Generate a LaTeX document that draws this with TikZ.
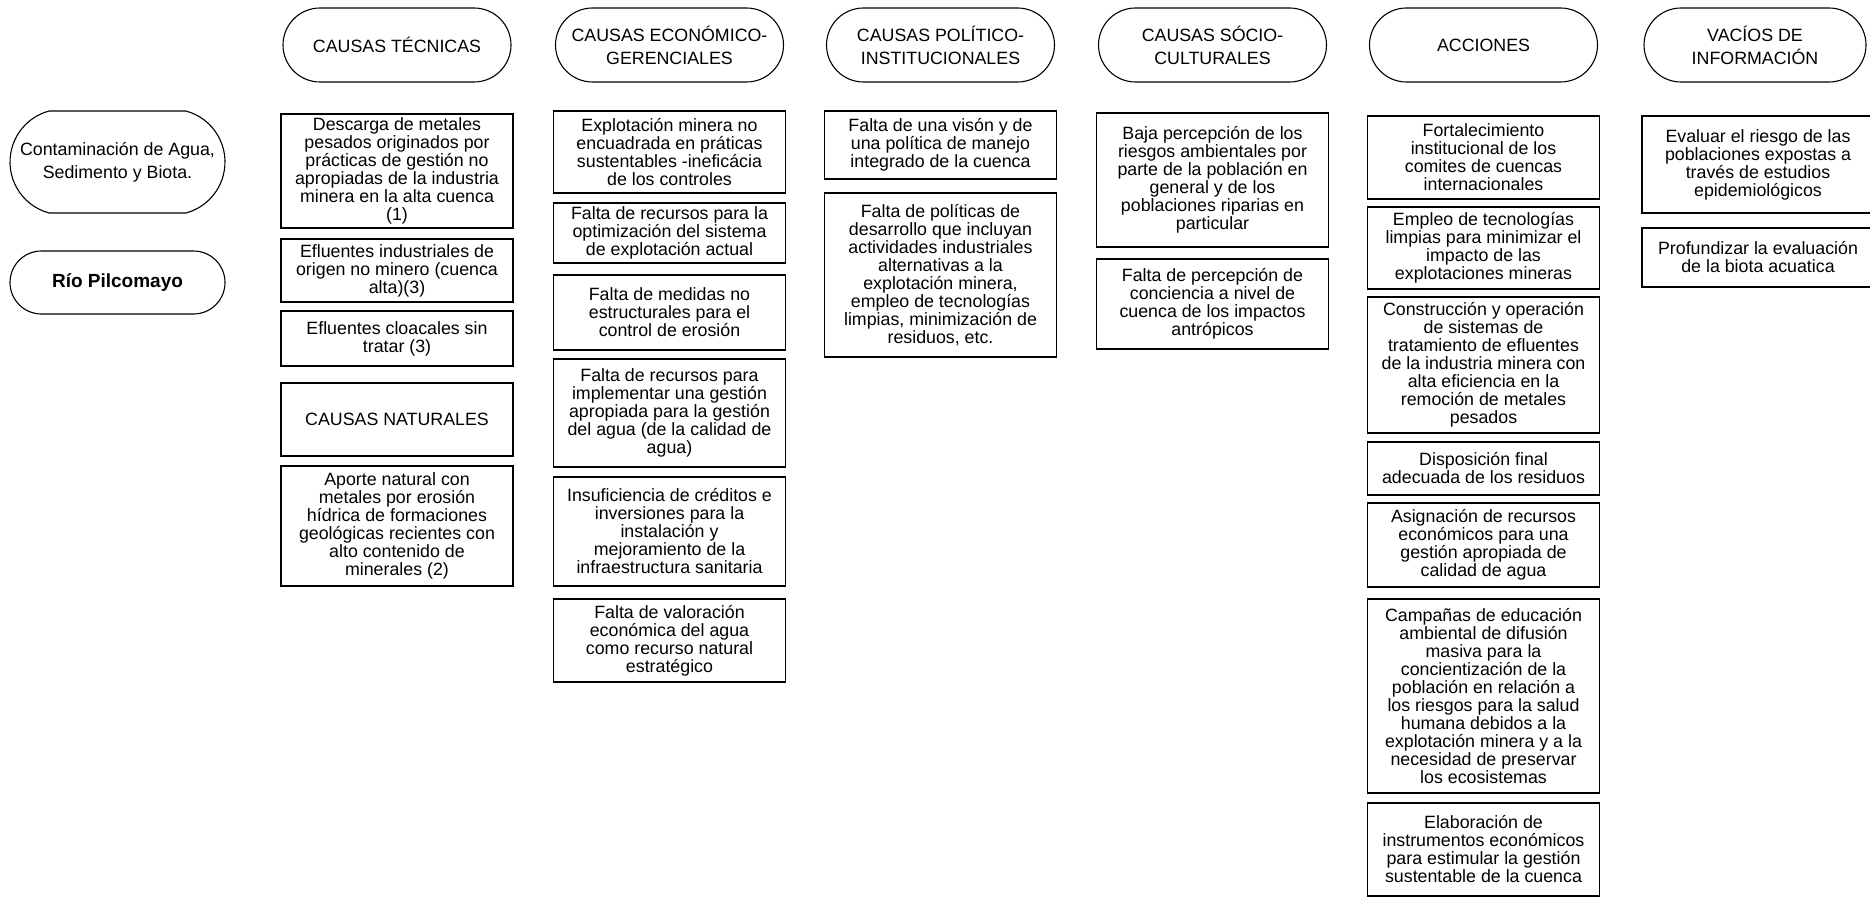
\documentclass[tikz,border=0pt]{standalone}
\usepackage{fontspec}
\setmainfont{Liberation Sans}
\usetikzlibrary{shapes.misc}

\begin{document}
\begin{tikzpicture}[x=1pt,y=-1pt,
  hdr/.style={rounded rectangle,draw,line width=1.1pt,minimum width=232,minimum height=74,inner sep=2pt,align=center,font=\fontsize{17.8}{23}\selectfont},
  box/.style={rectangle,draw,line width=1.1pt,minimum width=232,inner sep=2pt,align=center,font=\fontsize{17.8}{18}\selectfont}]
  \clip(0,0)rectangle(1870,904);
  \fill[white](0,0)rectangle(1870,904);
  % left column
  \node[hdr,rounded rectangle arc length=150,minimum width=219,minimum height=102](cont)at(117.5,162){Contaminación de Agua,\\Sedimento y Biota.};
  \node[hdr,minimum width=219,minimum height=63,font=\fontsize{19}{22}\selectfont\bfseries](rio)at(117.5,282.5){Río Pilcomayo};
  % headers
  \foreach \x/\n/\t in {397/tec/{CAUSAS TÉCNICAS},669.5/eco/{CAUSAS ECONÓMICO-\\GERENCIALES},940.5/pol/{CAUSAS POLÍTICO-\\INSTITUCIONALES},1212.5/soc/{CAUSAS SÓCIO-\\CULTURALES},1483.5/acc/{ACCIONES}}
    \node[hdr](\n)at(\x,45){\t};
  \node[hdr,minimum width=226](vac)at(1755,45){VACÍOS DE\\INFORMACIÓN};
  % causas tecnicas
  \node[box,minimum height=114](tec1)at(397,171){Descarga de metales\\pesados originados por\\prácticas de gestión no\\apropiadas de la industria\\minera en la alta cuenca\\(1)};
  \node[box,minimum height=63](tec2)at(397,270.5){Efluentes industriales de\\origen no minero (cuenca\\alta)(3)};
  \node[box,minimum height=55](tec3)at(397,338.5){Efluentes cloacales sin\\tratar (3)};
  \node[box,minimum height=73](nat)at(397,419.5){CAUSAS NATURALES};
  \node[box,minimum height=120](tec4)at(397,526){Aporte natural con\\metales por erosión\\hídrica de formaciones\\geológicas recientes con\\alto contenido de\\minerales (2)};
  % causas economico-gerenciales
  \node[box,minimum height=82](eco1)at(669.5,152){Explotación minera no\\encuadrada en práticas\\sustentables -ineficácia\\de los controles};
  \node[box,minimum height=60](eco2)at(669.5,233){Falta de recursos para la\\optimización del sistema\\de explotación actual};
  \node[box,minimum height=75](eco3)at(669.5,312.5){Falta de medidas no\\estructurales para el\\control de erosión};
  \node[box,minimum height=108](eco4)at(669.5,413){Falta de recursos para\\implementar una gestión\\apropiada para la gestión\\del agua (de la calidad de\\agua)};
  \node[box,minimum height=109](eco5)at(669.5,531.5){Insuficiencia de créditos e\\inversiones para la\\instalación y\\mejoramiento de la\\infraestructura sanitaria};
  \node[box,minimum height=83](eco6)at(669.5,640.5){Falta de valoración\\económica del agua\\como recurso natural\\estratégico};
  % causas politico-institucionales
  \node[box,minimum height=68](pol1)at(940.5,145){Falta de una visón y de\\una política de manejo\\integrado de la cuenca};
  \node[box,minimum height=164](pol2)at(940.5,275){Falta de políticas de\\desarrollo que incluyan\\actividades industriales\\alternativas a la\\explotación minera,\\empleo de tecnologías\\limpias, minimización de\\residuos, etc.};
  % causas socio-culturales
  \node[box,minimum height=134](soc1)at(1212.5,180){Baja percepción de los\\riesgos ambientales por\\parte de la población en\\general y de los\\poblaciones riparias en\\particular};
  \node[box,minimum height=90](soc2)at(1212.5,304){Falta de percepción de\\conciencia a nivel de\\cuenca de los impactos\\antrópicos};
  % acciones
  \node[box,minimum height=83](acc1)at(1483.5,157.5){Fortalecimiento\\institucional de los\\comites de cuencas\\internacionales};
  \node[box,minimum height=82](acc2)at(1483.5,248){Empleo de tecnologías\\limpias para minimizar el\\impacto de las\\explotaciones mineras};
  \node[box,minimum height=136](acc3)at(1483.5,365){Construcción y operación\\de sistemas de\\tratamiento de efluentes\\de la industria minera con\\alta eficiencia en la\\remoción de metales\\pesados};
  \node[box,minimum height=53](acc4)at(1483.5,468.5){Disposición final\\adecuada de los residuos};
  \node[box,minimum height=84](acc5)at(1483.5,545){Asignación de recursos\\económicos para una\\gestión apropiada de\\calidad de agua};
  \node[box,minimum height=194](acc6)at(1483.5,696){Campañas de educación\\ambiental de difusión\\masiva para la\\concientización de la\\población en relación a\\los riesgos para la salud\\humana debidos a la\\explotación minera y a la\\necesidad de preservar\\los ecosistemas};
  \node[box,minimum height=93](acc7)at(1483.5,849.5){Elaboración de\\instrumentos económicos\\para estimular la gestión\\sustentable de la cuenca};
  % vacios de informacion
  \node[box,minimum height=97](vac1)at(1758,164.5){Evaluar el riesgo de las\\poblaciones expostas a\\través de estudios\\epidemiológicos};
  \node[box,minimum height=59](vac2)at(1758,257.5){Profundizar la evaluación\\de la biota acuatica};
\end{tikzpicture}
\end{document}
